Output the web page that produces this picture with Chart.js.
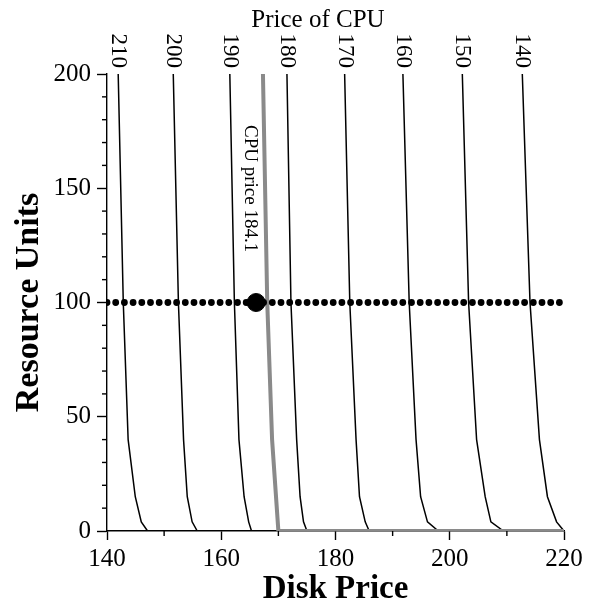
<!DOCTYPE html>
<html>
<head>
<meta charset="utf-8">
<script src="https://cdn.jsdelivr.net/npm/chart.js@4.4.1/dist/chart.umd.min.js"></script>
<style>
  html,body{margin:0;padding:0;background:#fff}
  canvas{display:block}
</style>
</head>
<body>
<canvas id="chart" width="591" height="606"></canvas>
<script>
const levels = [200, 100, 40, 15, 4, 0];
const cpuPrices = [210, 200, 190, 180, 170, 160, 150, 140];
// disk price for each CPU price at the levels above
const curveX = [
  [141.96, 142.85, 143.7, 144.95, 146.0, 147.1],
  [151.6, 152.5, 153.4, 154.05, 154.9, 155.8],
  [161.5, 162.3, 163.1, 164.0, 164.8, 165.3],
  [171.5, 172.2, 173.2, 173.8, 174.4, 175.0],
  [181.6, 182.5, 183.6, 184.2, 185.2, 185.9],
  [191.8, 192.9, 194.1, 194.9, 196.1, 198.0],
  [202.2, 203.3, 204.7, 206.2, 207.2, 209.4],
  [212.7, 214.05, 215.7, 217.1, 218.7, 220.0]
];
// grey curve for the equilibrium cpu price
const eqLevels = [200, 100, 40, 0, 0];
const eqX = [167.3, 168.05, 168.9, 170.0, 220];
const eqLabel = 'CPU price 184.1';
// supply line and the solution point
const supplyX = [140, 220];
const supplyY = [100, 100];
const solutionX = [166.1];
const solutionY = [100];

const serif = '"Liberation Serif", "Times New Roman", Times, serif';

const datasets = [];
curveX.forEach((xs, i) => {
  datasets.push({
    label: String(cpuPrices[i]),
    data: xs.map((x, j) => ({x: x, y: levels[j]})),
    showLine: true, borderColor: '#000', borderWidth: 1.5,
    pointRadius: 0, tension: 0, order: 4
  });
});
datasets.push({
  label: eqLabel,
  data: eqX.map((x, j) => ({x: x, y: eqLevels[j]})),
  showLine: true, borderColor: '#8a8a8a', borderWidth: 4,
  pointRadius: 0, tension: 0, order: 3
});
datasets.push({
  label: 'supply',
  data: supplyX.map((x, j) => ({x: x, y: supplyY[j]})),
  showLine: true, borderColor: '#000', borderWidth: 6.8,
  borderDash: [0, 8.7], borderCapStyle: 'round',
  pointRadius: 0, order: 2
});
datasets.push({
  label: 'solution',
  data: solutionX.map((x, j) => ({x: x, y: solutionY[j]})),
  showLine: false, pointRadius: 9, pointHoverRadius: 9,
  backgroundColor: '#000', borderColor: '#000', order: 1
});

const extras = {
  id: 'extras',
  afterDraw(chart) {
    const ctx = chart.ctx;
    const xs = chart.scales.x, ys = chart.scales.y;
    ctx.save();
    ctx.strokeStyle = '#000';
    ctx.lineWidth = 1.4;
    // minor ticks
    for (let v = ys.min; v <= ys.max; v += 10) {
      if (v % 50 === 0) continue;
      const p = ys.getPixelForValue(v);
      ctx.beginPath(); ctx.moveTo(xs.left - 5, p); ctx.lineTo(xs.left, p); ctx.stroke();
    }
    for (let v = xs.min; v <= xs.max; v += 10) {
      if (v % 20 === 0) continue;
      const p = xs.getPixelForValue(v);
      ctx.beginPath(); ctx.moveTo(p, ys.bottom); ctx.lineTo(p, ys.bottom + 5); ctx.stroke();
    }
    ctx.fillStyle = '#000';
    // top title
    ctx.font = '25px ' + serif;
    ctx.textAlign = 'center';
    ctx.textBaseline = 'middle';
    ctx.fillText('Price of CPU', 318, 20);
    // cpu price labels above each curve
    ctx.font = '23px ' + serif;
    curveX.forEach((row, i) => {
      ctx.save();
      ctx.translate(xs.getPixelForValue(row[0]), ys.top - 6);
      ctx.rotate(Math.PI / 2);
      ctx.textAlign = 'right';
      ctx.textBaseline = 'middle';
      ctx.fillText(String(cpuPrices[i]), 0, 0);
      ctx.restore();
    });
    // label along the grey curve
    ctx.font = '19px ' + serif;
    ctx.save();
    ctx.translate(xs.getPixelForValue(eqX[0]) - 13, ys.top + 51);
    ctx.rotate(Math.PI / 2);
    ctx.textAlign = 'left';
    ctx.textBaseline = 'middle';
    ctx.fillText(eqLabel, 0, 0);
    ctx.restore();
    ctx.restore();
  }
};

new Chart(document.getElementById('chart'), {
  type: 'scatter',
  data: {datasets: datasets},
  plugins: [extras],
  options: {
    responsive: false,
    animation: false,
    events: [],
    layout: {padding: {left: 0, top: 74, right: 27, bottom: 0}},
    plugins: {legend: {display: false}, tooltip: {enabled: false}},
    scales: {
      x: {
        type: 'linear', min: 140, max: 220,
        afterFit: s => { s.height = 75; },
        border: {display: true, color: '#000', width: 1.4},
        grid: {drawOnChartArea: false, tickLength: 9, tickColor: '#000', tickWidth: 1.4},
        ticks: {stepSize: 20, color: '#000', padding: 4, font: {family: serif, size: 25}},
        title: {display: true, text: 'Disk Price', color: '#000', padding: {top: 0, bottom: -3},
                font: {family: serif, size: 33, weight: 'bold'}}
      },
      y: {
        type: 'linear', min: 0, max: 200,
        afterFit: s => { s.width = 107; },
        border: {display: true, color: '#000', width: 1.4},
        grid: {drawOnChartArea: false, tickLength: 10, tickColor: '#000', tickWidth: 1.4},
        ticks: {stepSize: 50, color: '#000', padding: 6, font: {family: serif, size: 25}},
        title: {display: true, text: 'Resource Units', color: '#000', padding: {top: 9, bottom: 0},
                font: {family: serif, size: 34, weight: 'bold'}}
      }
    }
  }
});
</script>
</body>
</html>
